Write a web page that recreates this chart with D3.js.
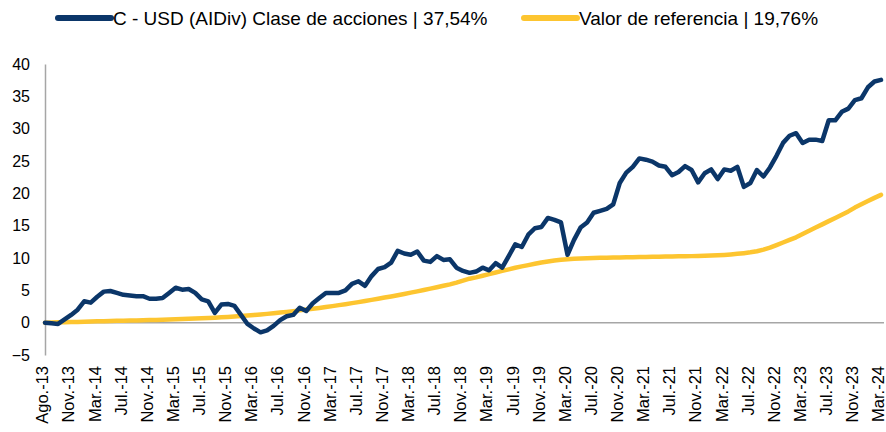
<!DOCTYPE html>
<html>
<head>
<meta charset="utf-8">
<script src="https://cdn.jsdelivr.net/npm/d3@7"></script>
<style>
  html, body { margin: 0; padding: 0; background: #ffffff; }
  svg { display: block; font-family: "Liberation Sans", Arial, sans-serif; }
</style>
</head>
<body>
<svg id="chart" width="886" height="432"></svg>
<script>
// ---- Data (monthly, index 0 = start) ----
const xTickLabels = ["Ago.-13","Nov.-13","Mar.-14","Jul.-14","Nov.-14","Mar.-15","Jul.-15","Nov.-15","Mar.-16","Jul.-16","Nov.-16","Mar.-17","Jul.-17","Nov.-17","Mar.-18","Jul.-18","Nov.-18","Mar.-19","Jul.-19","Nov.-19","Mar.-20","Jul.-20","Nov.-20","Mar.-21","Jul.-21","Nov.-21","Mar.-22","Jul.-22","Nov.-22","Mar.-23","Jul.-23","Nov.-23","Mar.-24"];
const yTickValues = [-5, 0, 5, 10, 15, 20, 25, 30, 35, 40];

const seriesNames = ["C - USD (AIDiv) Clase de acciones | 37,54%", "Valor de referencia | 19,76%"];

const fundValues = [
  0, -0.1, -0.2, 0.5, 1.2, 2.0, 3.3, 3.1, 4.0, 4.8,
  4.9, 4.6, 4.3, 4.2, 4.1, 4.1, 3.7, 3.7, 3.8, 4.6,
  5.4, 5.1, 5.2, 4.6, 3.6, 3.3, 1.5, 2.8, 2.9, 2.6,
  1.2, -0.2, -0.9, -1.5, -1.2, -0.5, 0.4, 1.0, 1.2, 2.3,
  1.8, 3.0, 3.8, 4.6, 4.6, 4.6, 5.0, 6.0, 6.4, 5.7,
  7.2, 8.3, 8.6, 9.3, 11.1, 10.7, 10.5, 11.0, 9.6, 9.4,
  10.3, 9.7, 9.8, 8.5, 8.0, 7.7, 7.9, 8.5, 8.1, 9.2,
  8.5, 10.3, 12.1, 11.7, 13.6, 14.6, 14.8, 16.2, 15.9, 15.5,
  10.5, 12.8, 14.7, 15.5, 17.0, 17.3, 17.6, 18.3, 21.6, 23.2,
  24.1, 25.4, 25.2, 24.9, 24.3, 24.1, 22.8, 23.3, 24.2, 23.6,
  21.7, 23.1, 23.7, 22.2, 23.7, 23.5, 24.1, 21.0, 21.6, 23.6,
  22.6, 24.0, 25.8, 27.8, 28.9, 29.3, 27.8, 28.3, 28.3, 28.1,
  31.3, 31.3, 32.6, 33.1, 34.4, 34.7, 36.4, 37.3, 37.54
];

const benchmarkValues = [
  0, 0.02, 0.05, 0.08, 0.1, 0.12, 0.15, 0.18, 0.2, 0.22,
  0.25, 0.28, 0.3, 0.32, 0.35, 0.38, 0.4, 0.43, 0.46, 0.5,
  0.53, 0.56, 0.6, 0.64, 0.68, 0.72, 0.77, 0.82, 0.88, 0.95,
  1.02, 1.1, 1.18, 1.27, 1.36, 1.46, 1.56, 1.67, 1.78, 1.9,
  2.02, 2.15, 2.28, 2.42, 2.56, 2.71, 2.86, 3.02, 3.18, 3.35,
  3.52, 3.7, 3.88, 4.06, 4.25, 4.44, 4.64, 4.84, 5.05, 5.26,
  5.48, 5.7, 5.93, 6.2, 6.5, 6.8, 7.0, 7.25, 7.5, 7.75,
  8.0, 8.25, 8.5, 8.7, 8.9, 9.1, 9.3, 9.45, 9.6, 9.72,
  9.82, 9.88, 9.93, 9.97, 10.0, 10.02, 10.04, 10.06, 10.08, 10.1,
  10.12, 10.14, 10.16, 10.18, 10.2, 10.22, 10.24, 10.26, 10.28, 10.29,
  10.3, 10.33, 10.37, 10.42, 10.48, 10.55, 10.64, 10.75, 10.88, 11.05,
  11.3, 11.6, 12.0, 12.4, 12.8, 13.2, 13.7, 14.2, 14.7, 15.2,
  15.7, 16.2, 16.7, 17.2, 17.8, 18.3, 18.8, 19.3, 19.76
];
</script>
<script>
const colors = ["#0b3669", "#fdc530"];
const svg = d3.select("#chart");

const x = d3.scaleLinear().domain([0, fundValues.length - 1]).range([45, 881]);
const y = d3.scaleLinear().domain([-5, 40]).range([355, 64]);

// Y axis labels
const yAxis = d3.axisLeft(y).tickValues(yTickValues).tickSize(0).tickPadding(15).tickFormat(d3.format("d"));
const gy = svg.append("g").attr("transform", "translate(45,0)").call(yAxis);
gy.select(".domain").attr("stroke", "#a6a6a6").attr("stroke-width", 1.5);
gy.selectAll("text").attr("font-size", 16).attr("fill", "#000").attr("font-family", "Liberation Sans, Arial, sans-serif");

// Zero line
svg.append("line")
  .attr("x1", x(0)).attr("x2", 884)
  .attr("y1", y(0)).attr("y2", y(0))
  .attr("stroke", "#a6a6a6").attr("stroke-width", 1.5);

// X tick labels (every 4 months)
const xAxis = d3.axisBottom(x).tickValues(xTickLabels.map((lab, k) => k * 4)).tickSize(0)
  .tickFormat((d, k) => xTickLabels[k]);
const gx = svg.append("g").attr("transform", "translate(0,360)").call(xAxis);
gx.select(".domain").remove();
gx.selectAll("text")
  .attr("font-size", 16.5).attr("fill", "#000")
  .attr("font-family", "Liberation Sans, Arial, sans-serif")
  .attr("text-anchor", "end")
  .attr("transform", "rotate(-90)")
  .attr("x", -6).attr("y", -3).attr("dy", "0.35em");

// Lines
const line = d3.line().x((d, i) => x(i)).y(d => y(d)).curve(d3.curveLinear);
svg.append("path").datum(benchmarkValues)
  .attr("d", line).attr("fill", "none")
  .attr("stroke", colors[1]).attr("stroke-width", 4.5)
  .attr("stroke-linejoin", "round").attr("stroke-linecap", "round");
svg.append("path").datum(fundValues)
  .attr("d", line).attr("fill", "none")
  .attr("stroke", colors[0]).attr("stroke-width", 4.5)
  .attr("stroke-linejoin", "round").attr("stroke-linecap", "round");

// Legend
const legendItems = [
  {name: seriesNames[0], color: colors[0], x0: 58},
  {name: seriesNames[1], color: colors[1], x0: 524}
];
const lg = svg.append("g").attr("class", "legend");
legendItems.forEach(it => {
  lg.append("line").attr("x1", it.x0).attr("x2", it.x0 + 53)
    .attr("y1", 18).attr("y2", 18)
    .attr("stroke", it.color).attr("stroke-width", 6).attr("stroke-linecap", "round");
  lg.append("text").attr("x", it.x0 + 55).attr("y", 18).attr("dy", "0.36em")
    .attr("font-size", 19).attr("fill", "#000")
    .text(it.name);
});
</script>
</body>
</html>
